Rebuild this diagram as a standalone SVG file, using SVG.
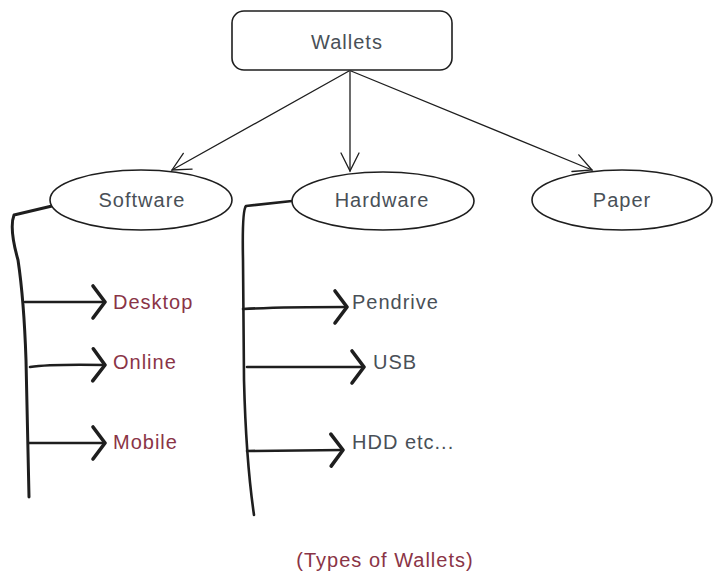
<svg xmlns="http://www.w3.org/2000/svg" width="722" height="585" viewBox="0 0 722 585">
<defs>
<style>
.shape{fill:#ffffff;stroke:#1e1e1e;stroke-width:1.6}
.thin{fill:none;stroke:#1e1e1e;stroke-width:1.3;stroke-linecap:round}
.thick{fill:none;stroke:#1e1e1e;stroke-width:2.6;stroke-linecap:round;stroke-linejoin:round}
.txt{font-family:"Liberation Sans","DejaVu Sans",sans-serif;font-size:20px;letter-spacing:1px;fill:#495057}
.red{fill:#8a3446}
</style>
<marker id="open" markerWidth="24" markerHeight="24" refX="20" refY="12" orient="auto" markerUnits="userSpaceOnUse">
<path d="M2,3 L20,12 L2,21" fill="none" stroke="#1e1e1e" stroke-width="1.3" stroke-linecap="round"/>
</marker>
<marker id="chev" markerWidth="20" markerHeight="40" refX="15" refY="20" orient="auto" markerUnits="userSpaceOnUse">
<path d="M3,4 L15,20 L3,36" fill="none" stroke="#1e1e1e" stroke-width="3.6" stroke-linecap="round" stroke-linejoin="round"/>
</marker>
</defs>
<rect width="722" height="585" fill="#ffffff"/>
<g id="connectors">
<path class="thin" d="M349,71 L172,170" marker-end="url(#open)"/>
<path class="thin" d="M350,71 L350,171" marker-end="url(#open)"/>
<path class="thin" d="M351,71 L592,170" marker-end="url(#open)"/>
<path class="thick" d="M52,206 L14,215 Q9,228 18,260 Q24,300 26,360 L29,497" style="stroke-width:3"/>
<path class="thick" d="M292,201 L246,206 Q242,210 243,260 L244,380 Q246,460 254,515"/>
<path class="thick" d="M25,302 L105,302" marker-end="url(#chev)"/>
<path class="thick" d="M30,367 Q50,364 105,365" marker-end="url(#chev)"/>
<path class="thick" d="M29,443 L105,443" marker-end="url(#chev)"/>
<path class="thick" d="M243,309 Q280,307 347,307" marker-end="url(#chev)"/>
<path class="thick" d="M247,367 L364,367" marker-end="url(#chev)"/>
<path class="thick" d="M247,451 L343,450" marker-end="url(#chev)"/>
</g>
<g id="wallets">
<rect class="shape" x="232" y="11" width="220" height="59" rx="12"/>
<text class="txt" x="347" y="49" text-anchor="middle">Wallets</text>
</g>
<g id="software">
<ellipse class="shape" cx="141" cy="200" rx="91" ry="30"/>
<text class="txt" x="142" y="207" text-anchor="middle">Software</text>
</g>
<g id="hardware">
<ellipse class="shape" cx="383" cy="201" rx="91" ry="29"/>
<text class="txt" x="382" y="207" text-anchor="middle">Hardware</text>
</g>
<g id="paper">
<ellipse class="shape" cx="622" cy="200" rx="90" ry="30"/>
<text class="txt" x="622" y="207" text-anchor="middle">Paper</text>
</g>
<g id="software-items">
<text class="txt red" x="113" y="309">Desktop</text>
<text class="txt red" x="113" y="369">Online</text>
<text class="txt red" x="113" y="449">Mobile</text>
</g>
<g id="hardware-items">
<text class="txt" x="352" y="309">Pendrive</text>
<text class="txt" x="373" y="369">USB</text>
<text class="txt" x="352" y="449">HDD etc...</text>
</g>
<g id="caption">
<text class="txt red" x="385" y="567" text-anchor="middle">(Types of Wallets)</text>
</g>
</svg>
